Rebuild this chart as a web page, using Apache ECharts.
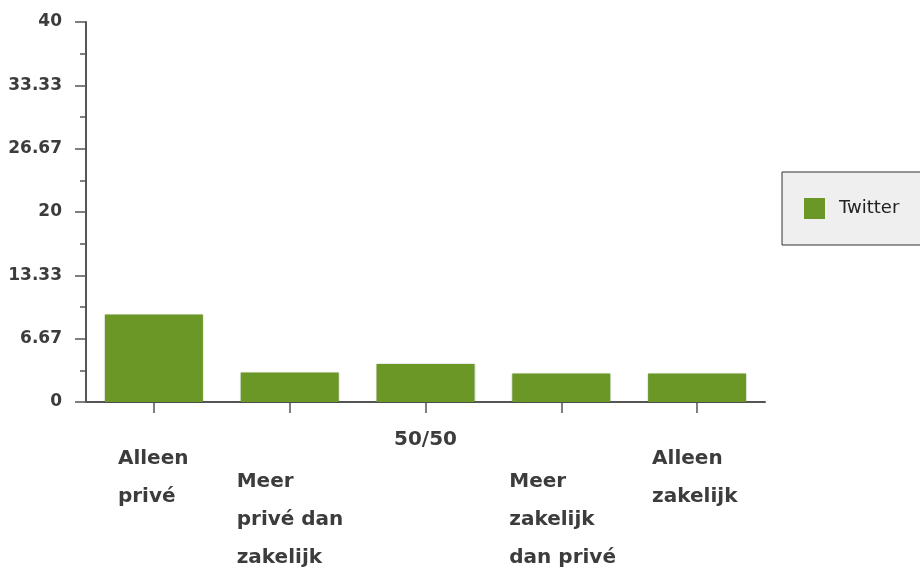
<!DOCTYPE html>
<html>
<head>
<meta charset="utf-8">
<script src="https://cdn.jsdelivr.net/npm/echarts@6/dist/echarts.min.js"></script>
<style>
html,body{margin:0;padding:0;background:#fff;}
#chart{width:920px;height:571px;}
</style>
</head>
<body>
<div id="chart"></div>
<script>
// ---- data ----
var categories = ['Alleen\nprivé', 'Meer\nprivé dan\nzakelijk', '50/50', 'Meer\nzakelijk\ndan privé', 'Alleen\nzakelijk'];
var seriesName = 'Twitter';
var twitterValues = [9.2, 3.1, 4, 3, 3];
var yTickLabels = ['0', '6.67', '13.33', '20', '26.67', '33.33', '40'];
var yMax = 40;

// ---- styles ----
var green = '#6a9726';
var textColor = '#3c3c3c';
var axisColor = '#555555';
var labelFont = 'DejaVu Sans';
var xFontSize = 20;

var blockWidths = [72, 106, 60, 104, 90];
var rich = {};
blockWidths.forEach(function (w, i) {
  rich['r' + i] = { width: w, align: 'left', fontFamily: labelFont, fontWeight: 'bold', fontSize: xFontSize, color: textColor, lineHeight: 38 };
});

function labelFor(indices) {
  return function (value, index) {
    if (indices.indexOf(index) < 0) return '';
    if (index === 2) return value;
    return value.split('\n').map(function (l) { return '{r' + index + '|' + l + '}'; }).join('\n');
  };
}

var hiddenAxisBase = {
  type: 'category',
  data: categories,
  position: 'bottom',
  axisLine: { show: false },
  axisTick: { show: false },
  splitLine: { show: false }
};

function xLabel(margin, indices) {
  return {
    interval: 0, margin: margin, verticalAlign: 'top', lineHeight: 38,
    fontFamily: labelFont, fontWeight: 'bold', fontSize: xFontSize, color: textColor,
    formatter: labelFor(indices), rich: rich
  };
}

var chart = echarts.init(document.getElementById('chart'), null, { renderer: 'canvas' });
chart.setOption({
  animation: false,
  backgroundColor: '#ffffff',
  grid: { left: 86, right: 155, top: 22, bottom: 169, containLabel: false, outerBoundsMode: 'none' },
  legend: {
    data: [seriesName],
    left: 782, top: 172,
    orient: 'vertical',
    padding: [26, 30, 26, 22],
    itemWidth: 21, itemHeight: 21, itemGap: 10,
    icon: 'rect',
    backgroundColor: '#efefef',
    borderColor: '#333333',
    borderWidth: 1,
    borderRadius: 0,
    textStyle: { fontFamily: labelFont, fontSize: 18, color: '#222222', padding: [0, 0, 0, 9] }
  },
  xAxis: [
    {
      type: 'category',
      data: categories,
      position: 'bottom',
      axisLine: { show: true, lineStyle: { color: axisColor, width: 2 } },
      axisTick: { show: true, alignWithLabel: true, length: 11, lineStyle: { color: axisColor, width: 1.5 } },
      axisLabel: xLabel(19, [2]),
      splitLine: { show: false }
    },
    Object.assign({}, hiddenAxisBase, { axisLabel: xLabel(38, [0, 4]) }),
    Object.assign({}, hiddenAxisBase, { axisLabel: xLabel(61, [1, 3]) })
  ],
  yAxis: {
    type: 'value',
    min: 0,
    max: yMax,
    interval: yMax / (yTickLabels.length - 1),
    axisLine: { show: true, lineStyle: { color: axisColor, width: 2 } },
    axisTick: { show: true, length: 11, lineStyle: { color: axisColor, width: 1.5 } },
    minorTick: { show: true, splitNumber: 2, length: 6, lineStyle: { color: axisColor, width: 1.5 } },
    splitLine: { show: false },
    axisLabel: {
      margin: 24,
      fontFamily: labelFont, fontWeight: 'bold', fontSize: 17, color: textColor,
      formatter: function (v) {
        var step = yMax / (yTickLabels.length - 1);
        var idx = Math.round(v / step);
        return yTickLabels[idx] !== undefined ? yTickLabels[idx] : '';
      }
    }
  },
  series: [{
    name: seriesName,
    type: 'bar',
    xAxisIndex: 0,
    data: twitterValues,
    barWidth: 98,
    itemStyle: { color: green, shadowBlur: 2, shadowColor: 'rgba(0,0,0,0.25)' }
  }]
});
</script>
</body>
</html>
